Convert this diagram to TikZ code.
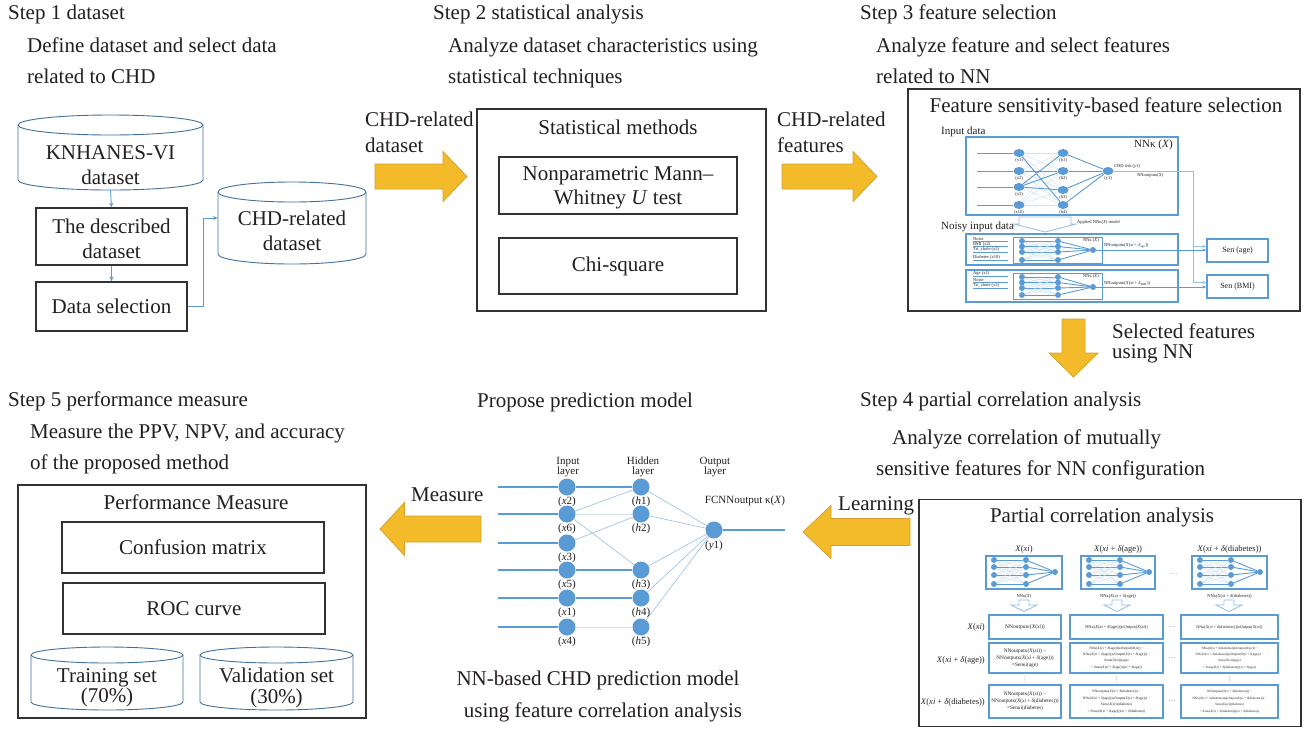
\documentclass[tikz,border=0pt]{standalone}
\usepackage{fontspec}
\setmainfont{Liberation Serif}
\newfontfamily\symfont{DejaVu Sans}
\usetikzlibrary{shapes.geometric,arrows.meta,calc}

\definecolor{ink}{RGB}{35,31,32}
\definecolor{frame}{RGB}{50,50,50}
\definecolor{nnblue}{RGB}{91,155,213}
\definecolor{nnmid}{RGB}{150,190,228}
\definecolor{nnlight}{RGB}{205,225,243}
\definecolor{cylblue}{RGB}{65,113,156}
\definecolor{orfill}{RGB}{243,186,42}
\definecolor{ordraw}{RGB}{214,162,45}

\newcommand\iX{\textit{X}}
\newcommand\ixi{\textit{xi}}
\newcommand\dlt{\textit{δ}}
\newcommand\fsz[1]{\fontsize{#1}{#1}\selectfont}

% cylinder outline: left x, right x, top rim y, bottom rim y, rim half-height
\newcommand\drawcyl[5]{%
  \pgfmathsetmacro\cylrx{(#2-#1)/2}%
  \draw[cylline] (#1,#3) -- (#1,#4)
     arc[start angle=180,end angle=360,x radius=\cylrx pt,y radius=#5pt]
     -- (#2,#3)
     arc[start angle=0,end angle=180,x radius=\cylrx pt,y radius=#5pt] -- cycle;
  \draw[cylline] (#1,#3) arc[start angle=180,end angle=360,x radius=\cylrx pt,y radius=#5pt];
}

% horizontal block arrow: style, tail x, head-base x, tip x, centre y, half shaft, half head
\newcommand\blockh[7]{%
  \path[#1] (#2,#5-#6) -- (#3,#5-#6) -- (#3,#5-#7) -- (#4,#5) -- (#3,#5+#7)
     -- (#3,#5+#6) -- (#2,#5+#6) -- cycle;}
% vertical block arrow: style, centre x, tail y, head-base y, tip y, half shaft, half head
\newcommand\blockv[7]{%
  \path[#1] (#2-#6,#3) -- (#2-#6,#4) -- (#2-#7,#4) -- (#2,#5) -- (#2+#7,#4)
     -- (#2+#6,#4) -- (#2+#6,#3) -- cycle;}

% small 4-4-1 network: prefix, x input, x hidden, x output, four y values, y output
\newcommand\minnet[9]{%
  \foreach \k/\yy in {1/#5,2/#6,3/#7,4/#8}{%
    \node[mini] (#1i\k) at (#2,\yy) {};
    \node[mini] (#1h\k) at (#3,\yy) {};
  }%
  \node[mini] (#1o) at (#4,#9) {};
  \foreach \a in {1,2,3,4}{%
    \foreach \b in {1,2,3,4}{\draw[meshedge] (#1i\a) -- (#1h\b);}%
    \draw[darkedge] (#1i\a) -- (#1h\a);
    \draw[darkedge] (#1h\a) -- (#1o);
  }%
}

\begin{document}
\begin{tikzpicture}[x=1pt,y=-1pt,
  every node/.style={text=ink},
  big/.style={font=\fontsize{21}{24.5}\selectfont},
  ltext/.style={big,anchor=west,inner sep=0pt,text height=.7em,text depth=.22em,yshift=-3.5pt},
  ctext/.style={big,inner sep=0pt,align=center},
  lbl/.style={font=\fsz{11},inner sep=0pt},
  tiny/.style={font=\fsz{4.5},inner sep=0pt},
  blackbox/.style={draw=frame,line width=1.1pt,inner sep=0pt},
  bluebox/.style={draw=nnblue,line width=1.3pt,inner sep=0pt},
  cylline/.style={draw=cylblue,line width=0.9pt},
  flow/.style={draw=nnblue,line width=0.9pt,-{Stealth[length=5pt,width=4pt]}},
  orarrow/.style={fill=orfill,draw=ordraw,line width=0.8pt,line join=miter},
  hollow/.style={fill=white,draw=nnmid,line width=0.8pt},
  neuron/.style={circle,fill=nnblue,inner sep=0pt,minimum size=17pt},
  fneuron/.style={ellipse,fill=nnblue,inner sep=0pt,minimum width=11pt,minimum height=8pt},
  mini/.style={circle,fill=nnblue,inner sep=0pt,minimum size=6pt},
  thickedge/.style={draw=nnblue,line width=1.2pt},
  thinedge/.style={draw=nnmid,line width=0.6pt},
  faintedge/.style={draw=nnlight,line width=0.6pt},
  meshedge/.style={draw=nnlight,line width=0.4pt},
  darkedge/.style={draw=nnblue,line width=0.9pt},
  light/.style={draw=nnmid,line width=0.8pt},
  lightarrow/.style={draw=nnmid,line width=0.8pt,-{Stealth[length=4pt,width=3pt]}},
  darkarrow/.style={draw=nnblue,line width=0.9pt,-{Stealth[length=4pt,width=3pt]}},
  cell/.style={draw=nnblue,line width=1.3pt,inner sep=0pt,align=center},
  dots/.style={font=\fsz{8},text=ink!50,inner sep=0pt}
]
\useasboundingbox (0,0) rectangle (1307,729);
\fill[white] (0,0) rectangle (1307,729);

% ---------- step headings ----------
\node[ltext] (s1) at (8,14) {Step 1 dataset};
\node[ltext] (s1a) at (27,47) {Define dataset and select data};
\node[ltext] (s1b) at (27,78) {related to CHD};
\node[ltext] (s2) at (433,14) {Step 2 statistical analysis};
\node[ltext] (s2a) at (448,47) {Analyze dataset characteristics using};
\node[ltext] (s2b) at (448,78) {statistical techniques};
\node[ltext] (s3) at (860,14) {Step 3 feature selection};
\node[ltext] (s3a) at (876,47) {Analyze feature and select features};
\node[ltext] (s3b) at (876,78) {related to NN};
\node[ltext] (s5) at (8,401) {Step 5 performance measure};
\node[ltext] (s5a) at (30,433) {Measure the PPV, NPV, and accuracy};
\node[ltext] (s5b) at (30,464) {of the proposed method};
\node[ctext] (pm) at (585,402) {Propose prediction model};
\node[ltext] (s4) at (860,401) {Step 4 partial correlation analysis};
\node[ltext] (s4a) at (892,439) {Analyze correlation of mutually};
\node[ltext] (s4b) at (876,470) {sensitive features for NN configuration};
\node[ctext] (nncap1) at (598,680) {NN-based CHD prediction model};
\node[ctext] (nncap2) at (603,712) {using feature correlation analysis};

% ---------- step 1 ----------
\drawcyl{18}{203}{125}{180}{10}
\node[minimum width=185pt,minimum height=75pt,inner sep=0pt] (knh) at (110.5,152.5) {};
\node[ctext] (knhtxt) at (110.5,165) {KNHANES-VI\\dataset};
\node[blackbox,minimum width=151pt,minimum height=57pt] (desc) at (111.5,236.5) {};
\node[ctext] (desctxt) at (111.5,239) {The described\\dataset};
\node[blackbox,minimum width=151pt,minimum height=49pt,big] (sel) at (111.5,306.5) {Data selection};
\drawcyl{218}{366}{192}{254}{10}
\node[minimum width=148pt,minimum height=72pt,inner sep=0pt] (chd) at (292,218) {};
\node[ctext] (chdtxt) at (292,231) {CHD-related\\dataset};
\draw[flow] (knh.south) -- (desc.north);
\draw[flow] (desc.south) -- (sel.north);
\draw[flow] (sel.east) -- ++(16,0) |- (chd.west);

% ---------- arrow to step 2 ----------
\node[ltext] (l1a) at (365,121) {CHD-related};
\node[ltext] (l1b) at (365,147) {dataset};
\blockh{orarrow}{375}{443}{467}{176.5}{12.5}{25}

% ---------- step 2 ----------
\node[blackbox,minimum width=289pt,minimum height=202pt] (stat) at (621.5,210) {};
\node[ctext] (stattl) at (618,127) {Statistical methods};
\node[blackbox,minimum width=238pt,minimum height=57pt] (mw) at (618,185.5) {};
\node[ctext] (mwtxt) at (618,188) {Nonparametric Mann–\\Whitney \textit{U} test};
\node[blackbox,minimum width=238pt,minimum height=56pt,big] (chi) at (618,266) {Chi-square};

% ---------- arrow to step 3 ----------
\node[ltext] (l2a) at (777,121) {CHD-related};
\node[ltext] (l2b) at (777,147) {features};
\blockh{orarrow}{782}{853}{877}{176.5}{12.5}{25}

% ---------- step 3 ----------
\node[blackbox,minimum width=392pt,minimum height=222pt] (fsel) at (1104,200) {};
\node[ctext] (fseltl) at (1106,107) {Feature sensitivity-based feature selection};
\node[lbl,anchor=west] (indata) at (941,132) {Input data};
\node[bluebox,minimum width=212pt,minimum height=78pt] (nnbox) at (1072,176) {};
\node[lbl,anchor=east] (nnk) at (1173,145) {NNκ (\iX)};
\foreach \k/\yy/\t in {1/153/x1,2/171/x2,3/187/x3,4/205/x10}{
  \node[fneuron] (fi\k) at (1019,\yy) {};
  \coordinate (fin\k) at (977,\yy);
  \draw[darkedge] (fin\k) -- (fi\k);
  \node[tiny,below=1pt] (fil\k) at (fi\k.south) {(\t)};
}
\foreach \k/\yy in {1/153,2/171,3/190,4/205}{
  \node[fneuron] (fh\k) at (1063,\yy) {};
  \node[tiny,below=1pt] (fhl\k) at (fh\k.south) {(h\k)};
}
\node[fneuron] (fo) at (1108,171) {};
\node[tiny,below=1pt] (fol) at (fo.south) {(y1)};
\foreach \a in {1,2,3,4}{\foreach \b in {1,2,3,4}{\draw[meshedge] (fi\a) -- (fh\b);}}
\draw[darkedge] (fi1) -- (fh4);
\draw[darkedge] (fi3) -- (fh1);
\draw[darkedge] (fi3) -- (fh2);
\draw[darkedge] (fi3) -- (fh3);
\draw[darkedge] (fi2) -- (fh2);
\foreach \b in {1,2,3,4}{\draw[darkedge] (fh\b) -- (fo);}
\node[tiny,anchor=west] (riskl) at (1114,166) {CHD risk (y1)};
\node[tiny,anchor=west] (outl) at (1137,175.5) {NNoutputκ(\iX)};

% applied-model arrow between the clean and the noisy inputs
\blockv{hollow}{1045}{217}{224}{232}{26}{31}
\coordinate (applleft) at (1014,224);
\node[tiny,anchor=west] (appltxt) at (1077,222) {Applied NNκ(\iX) model};
\node[lbl,anchor=west] (noisy) at (941,227) {Noisy input data};
\draw[light] (noisy.east) -- (applleft);

\node[bluebox,minimum width=61pt,minimum height=23pt,font=\fsz{8}] (senage) at (1237.5,250.5) {Sen (age)};
\node[bluebox,minimum width=61pt,minimum height=23pt,font=\fsz{8}] (senbmi) at (1237.5,286.5) {Sen (BMI)};

% noisy input 1
\node[bluebox,minimum width=212pt,minimum height=31pt] (nb1) at (1072,249.5) {};
\node[bluebox,line width=1pt,minimum width=89pt,minimum height=26pt] (nn1) at (1057.5,250) {};
\minnet{na}{1022}{1058}{1093}{241}{246.5}{252}{260}{250}
\foreach \k/\yy/\t in {1/241/Noise,2/246.5/BMI (x2),3/252/Tri\_chole (x3),4/260/Diabetes (x10)}{
  \node[tiny,anchor=south west] (nal\k) at (973,\yy) {\t};
  \draw[darkedge,line width=0.7pt,shorten >=5pt] (nal\k.south west) -- (nal\k.south west -| nn1.west);
}
\node[tiny,anchor=east] (nak) at (1099,240.5) {NNκ (\iX)};
\node[tiny,anchor=west] (naout) at (1104,246) {NNoutputκ(\iX(\ixi\ + \dlt\textsubscript{age}))};

% noisy input 2
\node[bluebox,minimum width=212pt,minimum height=32pt] (nb2) at (1072,286) {};
\node[bluebox,line width=1pt,minimum width=89pt,minimum height=26pt] (nn2) at (1057.5,286) {};
\minnet{nc}{1022}{1058}{1093}{277}{282.5}{288}{295}{287}
\foreach \k/\yy/\t in {1/276/Age (x1),2/282/Noise,3/288/Tri\_chole (x3)}{
  \node[tiny,anchor=south west] (ncl\k) at (973,\yy) {\t};
  \draw[darkedge,line width=0.7pt,shorten >=5pt] (ncl\k.south west) -- (ncl\k.south west -| nn2.west);
}
\node[tiny,anchor=east] (nck) at (1099,276.5) {NNκ (\iX)};
\node[tiny,anchor=west] (ncout) at (1104,283) {NNoutputκ(\iX(\ixi\ + \dlt\textsubscript{BMI}))};

% sensitivity links
\coordinate (fsplit) at (1193,171);
\draw[light] (fo) -- (fsplit);
\draw[lightarrow] (fsplit) |- ($(senage.west)+(0,-4)$);
\draw[lightarrow] (fsplit) |- ($(senbmi.west)+(0,-4)$);
\draw[darkarrow] (nao) -- (nao -| senage.west);
\draw[darkarrow] (nco) -- (nco -| senbmi.west);

% ---------- arrow to step 4 ----------
\blockv{orarrow}{1073.5}{319}{353}{377}{11.5}{24.5}
\node[ltext] (l3a) at (1112,333) {Selected features};
\node[ltext] (l3b) at (1112,353) {using NN};

% ---------- step 4 ----------
\node[blackbox,minimum width=382pt,minimum height=227pt] (pc) at (1110,613) {};
\node[ctext] (pctl) at (1102,517) {Partial correlation analysis};
\node[bluebox,minimum width=76pt,minimum height=33pt] (pa) at (1024,572.5) {};
\node[bluebox,minimum width=74pt,minimum height=33pt] (pb) at (1118,572.5) {};
\node[bluebox,minimum width=75pt,minimum height=33pt] (pcx) at (1229.5,572.5) {};
\minnet{ma}{994}{1026}{1055}{560}{567}{575}{584}{572}
\minnet{mb}{1089}{1120}{1149}{560}{567}{575}{584}{572}
\minnet{mc}{1200}{1231}{1260}{560}{567}{575}{584}{572}
\node[font=\fsz{8.5},inner sep=0pt] (pah) at (1024,549) {\iX(\ixi)};
\node[font=\fsz{8.5},inner sep=0pt] (pbh) at (1118,549) {\iX(\ixi\ + \dlt(age))};
\node[font=\fsz{8.5},inner sep=0pt] (pch) at (1229.5,549) {\iX(\ixi\ + \dlt(diabetes))};
\node[tiny] (paf) at (1024,596) {NNκ(\iX)};
\node[tiny] (pbf) at (1118,596) {NNκ(\iX(\ixi\ + \dlt(age))};
\node[tiny] (pcf) at (1229.5,596) {NNκ(\iX(\ixi\ + \dlt(diabetes))};
\node[dots] (pdots) at (1174,574) {…};
\foreach \xx in {1024,1117,1229}{\blockv{hollow}{\xx}{600}{605}{611.5}{5}{13}}
% row labels
\node[font=\fsz{8.5},inner sep=0pt,anchor=east] (r1) at (985,627) {\iX(\ixi)};
\node[font=\fsz{8.5},inner sep=0pt,anchor=east] (r2) at (985,660) {\iX(\ixi\ + \dlt(age))};
\node[font=\fsz{8.5},inner sep=0pt,anchor=east] (r3) at (985,702) {\iX(\ixi\ + \dlt(diabetes))};
% result cells
\node[cell,minimum width=72pt,minimum height=24pt,font=\fontsize{5.5}{7}\selectfont] (c11) at (1025,627) {NNoutputκ(\iX(\ixi))};
\node[cell,minimum width=93pt,minimum height=24pt,font=\fontsize{4.4}{6}\selectfont] (c12) at (1116.5,627) {NNκ(\iX(\ixi\ + \dlt(age)))κOutput(\iX(\ixi))};
\node[cell,minimum width=97pt,minimum height=24pt,font=\fontsize{4.1}{6}\selectfont] (c13) at (1229.5,627) {NNκ(\iX(\ixi\ + \dlt(diabetes)))κOutput(\iX(\ixi))};
\node[cell,minimum width=72pt,minimum height=30pt,font=\fontsize{5.3}{7}\selectfont] (c21) at (1025,658) {NNoutputκ(\iX(\ixi)) −\\NNoutputκ(\iX(\ixi\ + \dlt(age)))\\=Senκi(age)};
\node[cell,minimum width=93pt,minimum height=30pt,font=\fontsize{3.6}{6.2}\selectfont] (c22) at (1116.5,658) {NNκ(\iX(\ixi\ + \dlt(age)))κOutput(\iX(\ixi)) −\\NNκ(\iX(\ixi\ + \dlt(age)))κOutput(\iX(\ixi\ + \dlt(age))) −\\Senκ(\iX(\ixi))(age)\\= Senκ(\iX(\ixi\ + \dlt(age)))(\ixi\ + \dlt(age))};
\node[cell,minimum width=97pt,minimum height=30pt,font=\fontsize{3.3}{6.2}\selectfont] (c23) at (1229.5,658) {NNκ(\iX(\ixi\ + \dlt(diabetes)))κOutput(\iX(\ixi)) −\\NNκ(\iX(\ixi\ + \dlt(diabetes)))κOutput(\iX(\ixi\ + \dlt(age))) −\\Senκ(\iX(\ixi))(age)\\= Senκ(\iX(\ixi\ + \dlt(diabetes)))(\ixi\ + \dlt(age))};
\node[cell,minimum width=72pt,minimum height=33pt,font=\fontsize{5.3}{7}\selectfont] (c31) at (1025,701.5) {NNoutputκ(\iX(\ixi)) −\\NNoutputκ(\iX(\ixi\ + \dlt(diabetes)))\\=Senκi(diabetes)};
\node[cell,minimum width=93pt,minimum height=33pt,font=\fontsize{3.6}{6.5}\selectfont] (c32) at (1116.5,701.5) {NNoutputκ(\iX(\ixi\ + \dlt(diabetes))) −\\NNκ(\iX(\ixi\ + \dlt(age)))κOutput(\iX(\ixi\ + \dlt(age))) −\\Senκ(\iX(\ixi))(diabetes)\\= Senκ(\iX(\ixi\ + \dlt(age)))(\ixi\ + \dlt(diabetes))};
\node[cell,minimum width=97pt,minimum height=33pt,font=\fontsize{3.3}{6.5}\selectfont] (c33) at (1229.5,701.5) {NNoutputκ(\iX(\ixi\ + \dlt(diabetes))) −\\NNκ(\iX(\ixi\ + \dlt(diabetes)))κOutput(\iX(\ixi\ + \dlt(diabetes))) −\\Senκ(\iX(\ixi))(diabetes)\\= Senκ(\iX(\ixi\ + \dlt(diabetes)))(\ixi\ + \dlt(diabetes))};
\foreach \n/\yy in {1/627,2/658,3/701.5}{\node[dots] (hdots\n) at (1172,\yy) {…};}
\foreach \n/\xx in {1/1025,2/1116.5,3/1229.5}{\node[dots,font=\symfont\fsz{7}] (vdots\n) at (\xx,679) {⋮};}

% ---------- learning arrow ----------
\node[ltext] (lrn) at (838,505) {Learning};
\blockh{orarrow}{910}{831}{803}{532}{13.5}{26.5}

% ---------- proposed network ----------
\node[lbl,align=center,font=\fontsize{11}{10}\selectfont] (ly1) at (568,467) {Input\\layer};
\node[lbl,align=center,font=\fontsize{11}{10}\selectfont] (ly2) at (643,467) {Hidden\\layer};
\node[lbl,align=center,font=\fontsize{11}{10}\selectfont] (ly3) at (715,467) {Output\\layer};
\foreach \n/\yy/\t in {x2/487/2,x6/514/6,x3/543/3,x5/570/5,x1/598/1,x4/627/4}{
  \node[neuron] (\n) at (567,\yy) {};
  \coordinate (in\n) at (498,\yy);
  \draw[thickedge] (in\n) -- (\n);
  \node[lbl,below=1pt] (lab\n) at (\n.south) {(\textit{x}\t)};
}
\foreach \n/\yy/\t in {h1/487/1,h2/514/2,h3/570/3,h4/598/4,h5/627/5}{
  \node[neuron] (\n) at (641,\yy) {};
  \node[lbl,below=1pt] (lab\n) at (\n.south) {(\textit{h}\t)};
}
\node[neuron] (y1) at (714,530) {};
\node[lbl,below=2pt] (laby1) at (y1.south) {(\textit{y}1)};
\node[lbl] (fcn) at (745,501) {FCNNoutput κ(\iX)};
\coordinate (yout) at (785,530);
\draw[thickedge] (y1) -- (yout);
\draw[thickedge] (x2) -- (h1);
\draw[thickedge] (x5) -- (h3);
\draw[thickedge] (x1) -- (h4);
\draw[thinedge] (x6) -- (h1);
\draw[thinedge] (x6) -- (h3);
\draw[thinedge] (x3) -- (h2);
\draw[faintedge] (x6) -- (h2);
\draw[faintedge] (x4) -- (h5);
\foreach \n in {h1,h2,h3,h4,h5}{\draw[thinedge] (\n) -- (y1);}

% ---------- measure arrow ----------
\node[ltext] (msr) at (411,496) {Measure};
\blockh{orarrow}{481}{404.5}{380}{529}{13}{26.5}

% ---------- step 5 ----------
\node[blackbox,minimum width=348pt,minimum height=233pt] (perf) at (192,601.5) {};
\node[ctext] (perftl) at (196,502) {Performance Measure};
\node[blackbox,minimum width=262pt,minimum height=51pt,big] (conf) at (193,547.5) {Confusion matrix};
\node[blackbox,minimum width=262pt,minimum height=51pt,big] (roc) at (194,608.5) {ROC curve};
\drawcyl{31}{183}{655}{702}{8}
\node[ctext] (train) at (107,688) {Training set\\[-4pt](70\%)};
\drawcyl{200}{353}{655}{702}{8}
\node[ctext] (valid) at (276.5,688) {Validation set\\[-4pt](30\%)};
\end{tikzpicture}
\end{document}
